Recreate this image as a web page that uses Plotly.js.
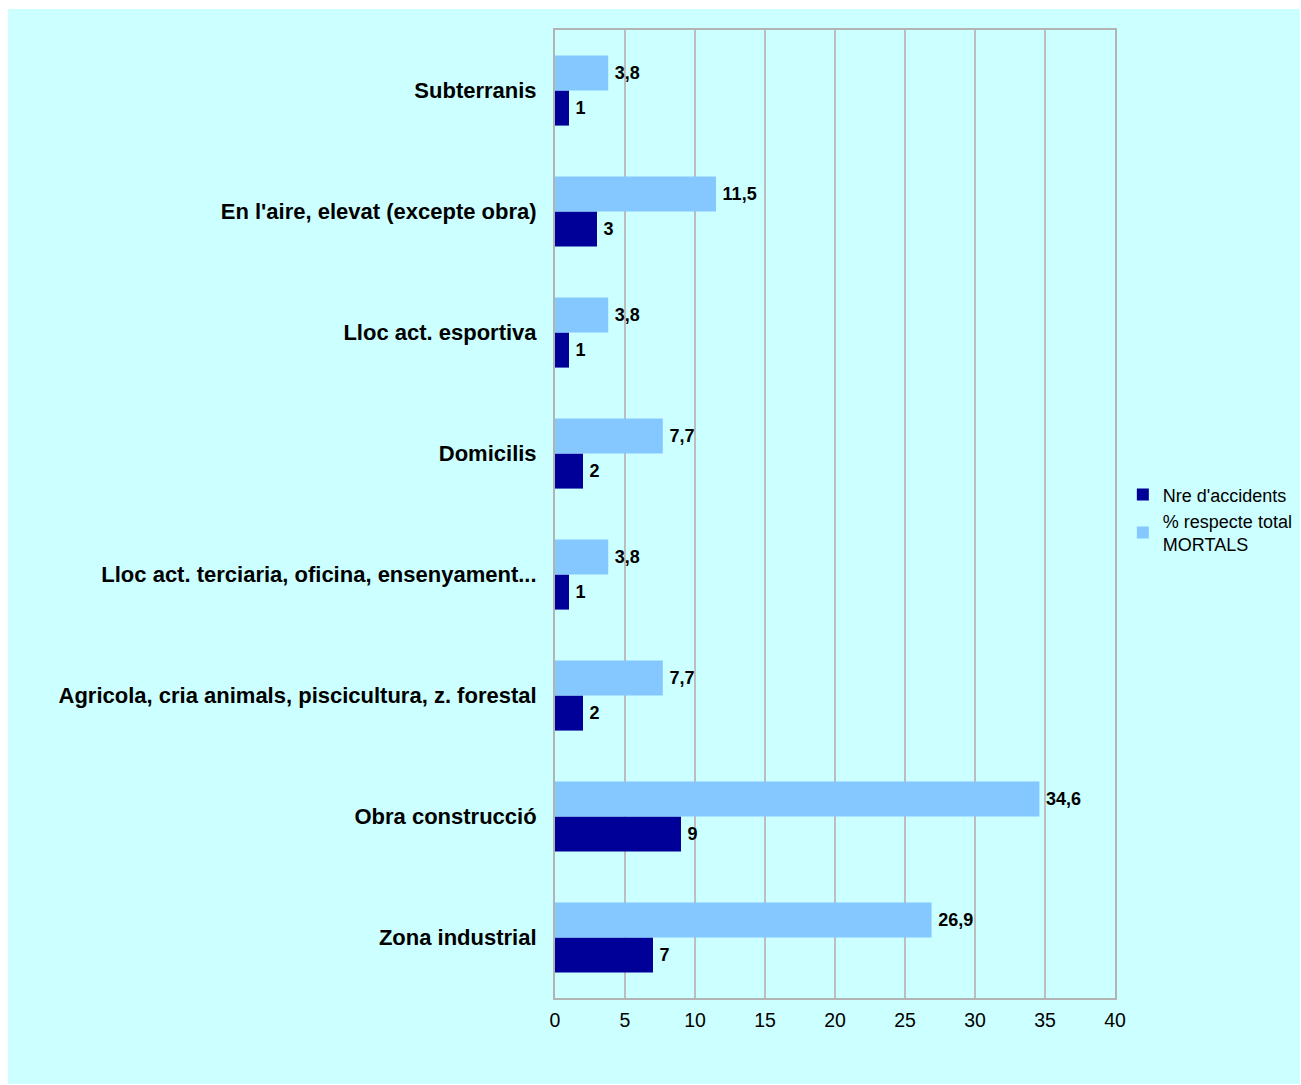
<!DOCTYPE html>
<html><head><meta charset="utf-8">
<script src="https://cdn.plot.ly/plotly-3.0.1.min.js"></script>
<style>html,body{margin:0;padding:0;background:#fff;}#c{position:absolute;left:8px;top:9px;width:1292px;height:1075px;}</style>
</head><body><div id="c"></div>
<script>
const categories = ["Zona industrial","Obra construcció","Agricola, cria animals, piscicultura, z. forestal","Lloc act. terciaria, oficina, ensenyament...","Domicilis","Lloc act. esportiva","En l'aire, elevat (excepte obra)","Subterranis"];
const nreAccidents = [7,9,2,1,2,1,3,1];
const pctMortals = [26.9,34.6,7.7,3.8,7.7,3.8,11.5,3.8];
const seriesNames = ["Nre d'accidents","% respecte total<br>MORTALS"];
const xTicks = [0,5,10,15,20,25,30,35,40];

const font = "Liberation Sans, Arial, sans-serif";
const traces = [
 {type:'bar',orientation:'h',name:seriesNames[0],y:categories,x:nreAccidents,marker:{color:'#000099'},
  texttemplate:'\u2009%{x}',textposition:'outside',cliponaxis:false,textfont:{family:font,size:18,color:'#000',weight:'bold'}},
 {type:'bar',orientation:'h',name:seriesNames[1],y:categories,x:pctMortals,marker:{color:'#85C8FF'},
  texttemplate:'\u2009%{x:.1f}',textposition:'outside',cliponaxis:false,textfont:{family:font,size:18,color:'#000',weight:'bold'}}
];
const layout = {
 width:1292,height:1075,
 paper_bgcolor:'#CCFFFF',plot_bgcolor:'#CCFFFF',
 separators:',.',
 font:{family:font,size:19,color:'#000'},
 margin:{l:547,r:185,t:21,b:86,autoexpand:false},
 barmode:'group',bargap:0.42,bargroupgap:0,
 showlegend:true,
 legend:{x:0.014,xref:'paper',xanchor:'left',y:0.494,yanchor:'middle',font:{family:font,size:18,color:'#000'},bgcolor:'rgba(0,0,0,0)',tracegroupgap:0,itemwidth:30},
 xaxis:{range:[0,40],tickvals:xTicks,ticktext:xTicks.map(String),showgrid:true,gridcolor:'#BDBDBD',gridwidth:1.5,
  showline:true,linecolor:'#B3B3B3',linewidth:2,mirror:true,zeroline:false,ticks:'',tickfont:{family:font,size:19.5},ticklabelstandoff:4,fixedrange:true},
 yaxis:{type:'category',categoryorder:'array',categoryarray:categories,showgrid:false,showline:true,linecolor:'#B3B3B3',linewidth:2,mirror:true,
  ticks:'',tickfont:{family:font,size:22,weight:'bold'},ticklabelstandoff:12,fixedrange:true}
};
layout.legend.x = 1.014;
Plotly.newPlot('c',traces,layout,{displayModeBar:false,staticPlot:true});
</script></body></html>
